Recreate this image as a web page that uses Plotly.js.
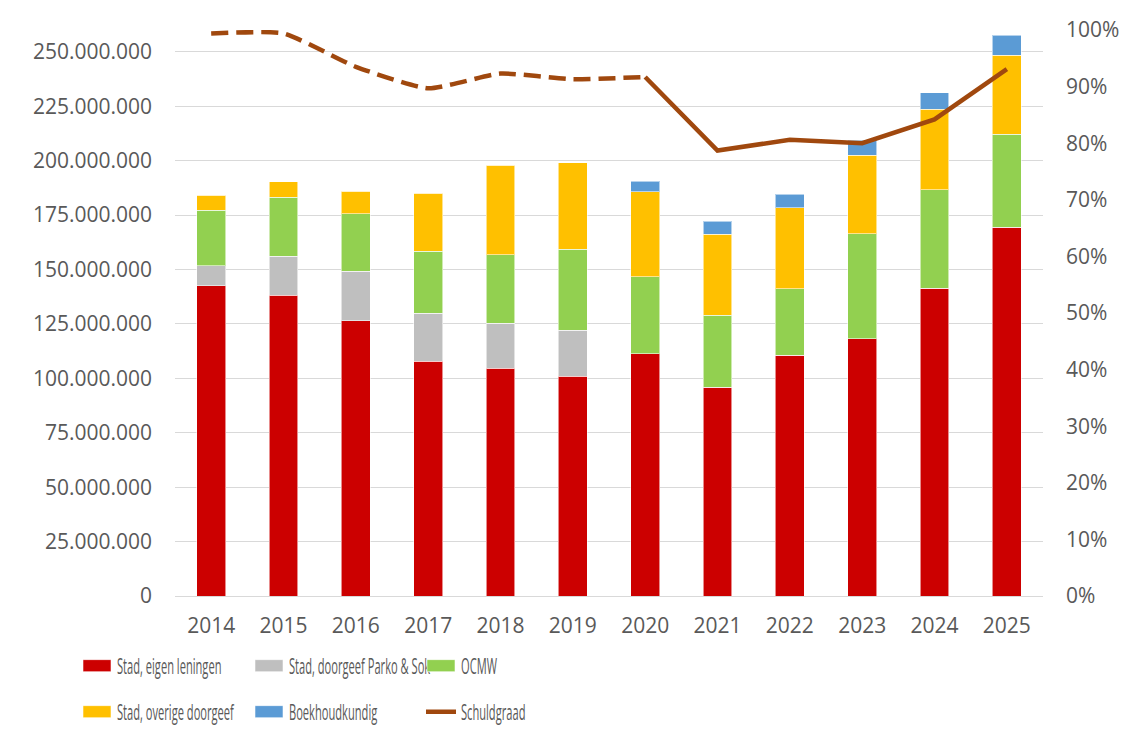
<!DOCTYPE html>
<html>
<head>
<meta charset="utf-8">
<script src="https://cdn.plot.ly/plotly-3.0.1.min.js"></script>
<style>
html,body{margin:0;padding:0;background:#fff;}
#chart{width:1148px;height:738px;}
/* reference legend uses a narrow face: condense the legend labels horizontally */
#chart text.legendtext, #chart text.legend2text{transform-box:fill-box;transform-origin:0 50%;transform:scaleX(0.53);}
</style>
</head>
<body>
<div id="chart"></div>
<script>
// ---- Data ----
var years = ['2014','2015','2016','2017','2018','2019','2020','2021','2022','2023','2024','2025'];
var stadEigenLeningen = [142500000,138200000,126400000,107900000,104600000,101000000,111200000,95800000,110500000,118100000,141300000,169400000];
var stadParkoSok      = [9300000,17900000,22800000,21900000,20600000,21100000,0,0,0,0,0,0];
var ocmw              = [25300000,27000000,26500000,28500000,31500000,37100000,35400000,33100000,30600000,48300000,45300000,42600000];
var stadOverige       = [7000000,7300000,10300000,26600000,41100000,39800000,39200000,37200000,37200000,36000000,37100000,36300000];
var boekhoudkundig    = [0,0,0,0,0,0,4800000,6100000,6300000,7000000,7500000,9200000];
var schuldgraad       = [0.994,0.994,0.935,0.897,0.923,0.913,0.917,0.787,0.806,0.800,0.842,0.931];
// dashed part covers 2014-2020, solid part 2020-2025
var dashedYears = years.slice(0,7), dashedVals = schuldgraad.slice(0,7);
var solidYears = years.slice(6), solidVals = schuldgraad.slice(6);

var names = ['Stad, eigen leningen','Stad, doorgeef Parko & Sok','OCMW','Stad, overige doorgeef','Boekhoudkundig','Schuldgraad'];
var colors = ['#CC0000','#BFBFBF','#92D050','#FFC000','#5B9BD5','#A0480E'];

var barLine = {color:'rgba(255,255,255,0.55)', width:1};
function bar(y, i, leg){
  return {type:'bar', x:years, y:y, name:names[i], marker:{color:colors[i], line:barLine},
          width:0.4, legend:leg, hoverinfo:'skip'};
}
var traces = [
  bar(stadEigenLeningen,0,'legend'),
  bar(stadParkoSok,1,'legend'),
  bar(ocmw,2,'legend'),
  bar(stadOverige,3,'legend2'),
  bar(boekhoudkundig,4,'legend2'),
  {type:'scatter', mode:'lines', x:dashedYears, y:dashedVals, yaxis:'y2', showlegend:false,
   line:{color:colors[5], width:4.5, dash:'17px,8px', shape:'spline', smoothing:0.5}, hoverinfo:'skip'},
  {type:'scatter', mode:'lines', x:solidYears, y:solidVals, yaxis:'y2', name:names[5], legend:'legend2',
   line:{color:colors[5], width:4.5}, hoverinfo:'skip'}
];

var tickFont = {family:'Open Sans, sans-serif', size:21, color:'#595959'};
var legFont = {family:'Open Sans, sans-serif', size:21, color:'#595959'};

var layout = {
  width:1148, height:738,
  margin:{l:175, r:105, t:30, b:142},
  paper_bgcolor:'#ffffff', plot_bgcolor:'#ffffff',
  separators:',.',
  barmode:'stack',
  font:{family:'Open Sans, sans-serif', color:'#595959'},
  xaxis:{type:'category', showgrid:false, showline:false, ticks:'', tickfont:tickFont, ticklabelstandoff:15, fixedrange:true},
  yaxis:{range:[0,260000000], dtick:25000000, tick0:0, tickformat:',d', showgrid:true, gridcolor:'#D9D9D9', gridwidth:1,
         zeroline:true, zerolinecolor:'#D9D9D9', zerolinewidth:1, showline:false, ticks:'', tickfont:tickFont, ticklabelstandoff:22},
  yaxis2:{overlaying:'y', side:'right', range:[0,1], dtick:0.1, tick0:0, tickformat:'.0%', showgrid:false, zeroline:false,
          showline:false, ticks:'', tickfont:tickFont, ticklabelstandoff:22},
  legend:{orientation:'h', xref:'container', yref:'container', x:77/1148, xanchor:'left', y:1-666/738, yanchor:'middle',
          font:legFont, entrywidth:127, entrywidthmode:'pixels', traceorder:'normal', bgcolor:'rgba(0,0,0,0)'},
  legend2:{orientation:'h', xref:'container', yref:'container', x:77/1148, xanchor:'left', y:1-712/738, yanchor:'middle',
          font:legFont, entrywidth:127, entrywidthmode:'pixels', traceorder:'normal', bgcolor:'rgba(0,0,0,0)'},
  showlegend:true
};

// widen the bar swatches in the legend (reference uses wide rectangles)
function widenSwatches(gd){
  gd.querySelectorAll('g.legendpoints path.legendbar, g.legendpoints path.legendundefined').forEach(function(p){
    p.setAttribute('d', 'M14,6H-14V-6H14Z');
  });
}

Plotly.newPlot('chart', traces, layout, {displayModeBar:false, staticPlot:true}).then(function(gd){
  widenSwatches(gd);
  gd.on('plotly_afterplot', function(){ widenSwatches(gd); });
  setTimeout(function(){ widenSwatches(gd); }, 0);
  setTimeout(function(){ widenSwatches(gd); }, 150);
});
</script>
</body>
</html>
